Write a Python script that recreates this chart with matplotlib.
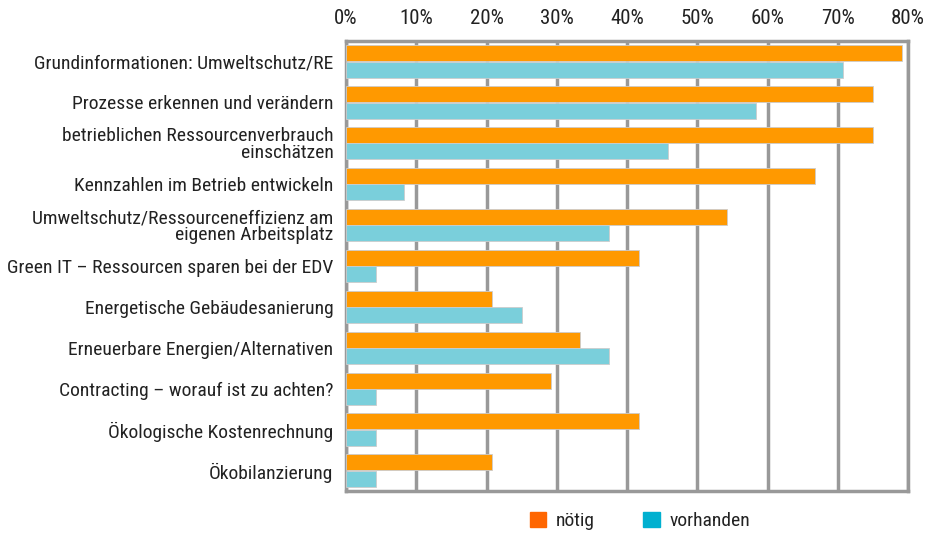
import numpy as np
import matplotlib
matplotlib.use("Agg")
import matplotlib.pyplot as plt
from matplotlib.patches import Patch

plt.rcParams['font.family'] = ['Roboto Condensed', 'DejaVu Sans']

# Data (share of respondents, %)
categories = [
    "Grundinformationen: Umweltschutz/RE",
    "Prozesse erkennen und verändern",
    "betrieblichen Ressourcenverbrauch\neinschätzen",
    "Kennzahlen im Betrieb entwickeln",
    "Umweltschutz/Ressourceneffizienz am\neigenen Arbeitsplatz",
    "Green IT – Ressourcen sparen bei der EDV",
    "Energetische Gebäudesanierung",
    "Erneuerbare Energien/Alternativen",
    "Contracting – worauf ist zu achten?",
    "Ökologische Kostenrechnung",
    "Ökobilanzierung",
]
noetig = [79.2, 75.0, 75.0, 66.7, 54.2, 41.7, 20.8, 33.3, 29.2, 41.7, 20.8]
vorhanden = [70.8, 58.3, 45.8, 8.3, 37.5, 4.2, 25.0, 37.5, 4.2, 4.2, 4.2]
xticks = [0, 10, 20, 30, 40, 50, 60, 70, 80]

c_noetig = "#FF9900"
c_vorh = "#7ACFDB"
grid_c = "#999999"
text_c = "#222222"

fig = plt.figure(figsize=(9.3, 5.35), dpi=100)
ax = fig.add_axes([346 / 930, 1 - 491 / 535, 562 / 930, 450 / 535])

y = np.arange(len(categories))
h = 0.39
ax.barh(y - 0.2, noetig, height=h, color=c_noetig, edgecolor="#cccccc", linewidth=0.6, zorder=3)
ax.barh(y + 0.2, vorhanden, height=h, color=c_vorh, edgecolor="#cccccc", linewidth=0.6, zorder=3)

ax.set_xlim(0, 80)
ax.set_ylim(len(categories) - 0.5, -0.5)
ax.set_xticks(xticks)
ax.set_xticklabels([f"{v}%" for v in xticks], fontsize=15)
ax.xaxis.tick_top()
ax.tick_params(axis="x", length=0, pad=9, colors=text_c)
ax.set_yticks(y)
ax.set_yticklabels(categories, fontsize=14, linespacing=0.9)
ax.tick_params(axis="y", length=0, pad=9, colors=text_c)

ax.grid(axis="x", color=grid_c, linewidth=2.5, zorder=1)
for s in ax.spines.values():
    s.set_color(grid_c)
    s.set_linewidth(2.5)

handles = [Patch(color="#FF6600", label="nötig"), Patch(color="#00B0D0", label="vorhanden")]
fig.legend(handles=handles, loc="center", bbox_to_anchor=(640 / 930, 1 - 521 / 535), ncol=2,
           frameon=False, fontsize=14, handlelength=0.85, handleheight=0.85, columnspacing=2.5,
           handletextpad=0.5, labelcolor=text_c)

fig.savefig("out.png", dpi=100)
